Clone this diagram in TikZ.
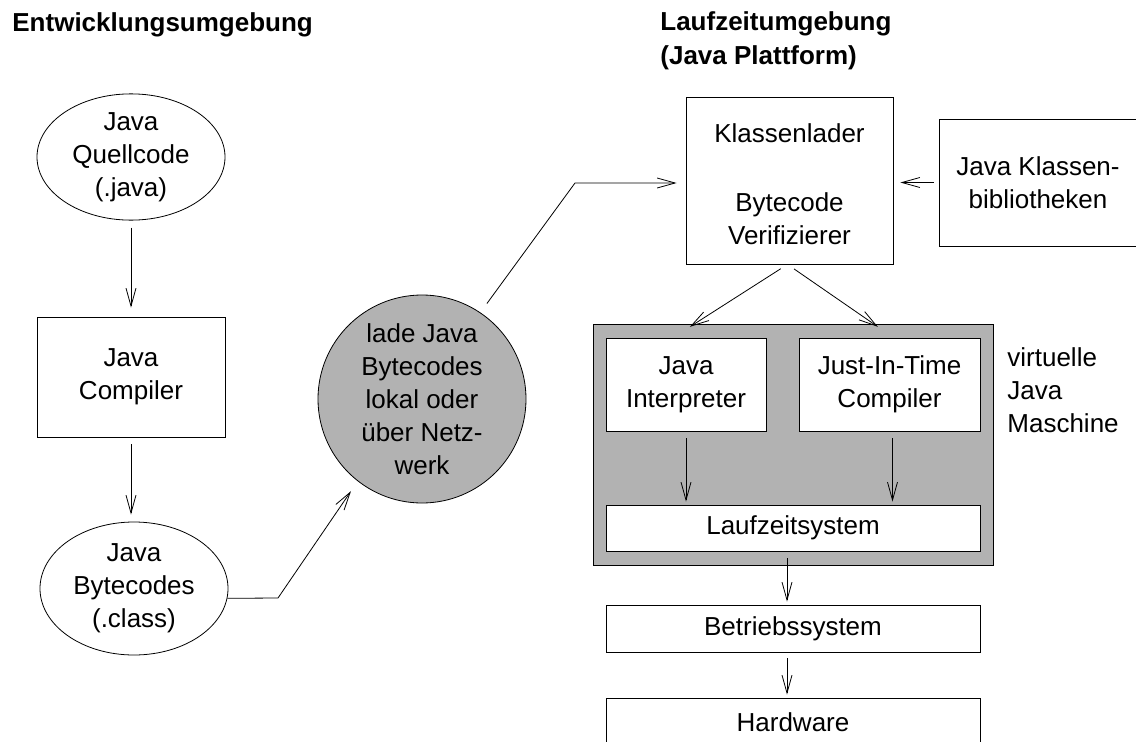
\documentclass[tikz,border=0pt]{standalone}
\usepackage{fontspec}
\setmainfont{Liberation Sans}
\usetikzlibrary{arrows.meta,shapes.geometric}

\tikzset{
  box/.style={draw, rectangle, fill=white, align=center, inner sep=0pt},
  oval/.style={draw, ellipse, fill=white, align=center, inner sep=0pt},
  titel/.style={font=\fontsize{26}{34}\selectfont\bfseries, align=left, inner sep=0pt},
  pfeil/.style={-{Straight Barb[length=18pt,width=10pt]}},
}

\begin{document}
\begin{tikzpicture}[x=1pt,y=-1pt,line width=0.8pt,font=\fontsize{26}{33}\selectfont]

		\useasboundingbox (0,0) rectangle (1136,742);

		% Titel
		\node[titel, anchor=base west] (titelEnt) at (12,31) {Entwicklungsumgebung};
		\node[titel, anchor=north west] (titelLauf) at (660,11) {Laufzeitumgebung\\(Java Plattform)};

		% Entwicklungsumgebung
		\node[oval, minimum width=188pt, minimum height=120pt] (quell) at (131,157) {Java\\Quellcode\\(.java)};
		\node[box, minimum width=188pt, minimum height=120pt] (compiler) at (131,377) {Java\\Compiler};
		\node[oval, minimum width=188pt, minimum height=133pt] (bytecodes) at (134,588.5) {Java\\Bytecodes\\(.class)};

		% Laden
		\node[draw, circle, fill=gray!60, align=center, inner sep=0pt, minimum size=208pt] (lade) at (422,399) {lade Java\\Bytecodes\\lokal oder\\über Netz-\\werk};
		\coordinate (knickA) at (278,598);
		\coordinate (knickB) at (575,183);

		% Laufzeitumgebung
		\node[box, minimum width=207pt, minimum height=167pt] (klassenlader) at (789.5,180.5) {\\[-6pt]Klassenlader\\[36pt]Bytecode\\Verifizierer};
		\node[box, minimum width=198pt, minimum height=127pt] (lib) at (1038,182.5) {Java Klassen-\\bibliotheken};

		\node[box, fill=gray!60, minimum width=400pt, minimum height=241pt] (jvm) at (793,444.5) {};
		\node[box, minimum width=160pt, minimum height=93pt] (interp) at (686,384.5) {Java\\Interpreter};
		\node[box, minimum width=181pt, minimum height=93pt] (jit) at (889.5,384.5) {Just-In-Time\\Compiler};
		\node[box, minimum width=374pt, minimum height=46pt] (lzs) at (793,528) {Laufzeitsystem};
		\node[anchor=north west, align=left, inner sep=0pt] (vjm) at (1007,347) {virtuelle\\Java\\Maschine};

		\node[box, minimum width=374pt, minimum height=47pt] (bs) at (793,628.5) {Betriebssystem};
		\node[box, minimum width=374pt, minimum height=48pt] (hw) at (793,722) {Hardware};

		% Pfeile
		\draw[pfeil, shorten <=7pt, shorten >=9pt] (quell) -- (compiler);
		\draw[pfeil, shorten <=7pt, shorten >=7pt] (compiler.south) -- (compiler.south |- bytecodes.north);
		\draw[pfeil, shorten >=12pt] (bytecodes.354) -- (knickA) -- (lade.232);
		\draw[pfeil, shorten <=11pt, shorten >=9pt] (lade.56) -- (knickB) -- (knickB -| klassenlader.west);
		\draw[pfeil, shorten <=5pt, shorten >=7pt] (lib.west) -- (lib.west -| klassenlader.east);

		\draw[pfeil, shorten <=8pt, shorten >=20pt] ([xshift=-2pt]klassenlader.south) -- ([xshift=-13pt]interp.north);
		\draw[pfeil, shorten <=8pt, shorten >=19pt] ([xshift=-2pt]klassenlader.south) -- ([xshift=4pt]jit.north);
		\draw[pfeil, shorten <=7pt, shorten >=3pt] (interp.south) -- (interp.south |- lzs.north);
		\draw[pfeil, shorten <=7pt, shorten >=3pt] ([xshift=3pt]jit.south) -- ([xshift=3pt]jit.south |- lzs.north);
		\draw[pfeil, shorten <=7pt, shorten >=3pt] ([xshift=-6pt]lzs.south) -- ([xshift=-6pt]lzs.south |- bs.north);
		\draw[pfeil, shorten <=6pt, shorten >=3pt] ([xshift=-6pt]bs.south) -- ([xshift=-6pt]bs.south |- hw.north);

\end{tikzpicture}
\end{document}
